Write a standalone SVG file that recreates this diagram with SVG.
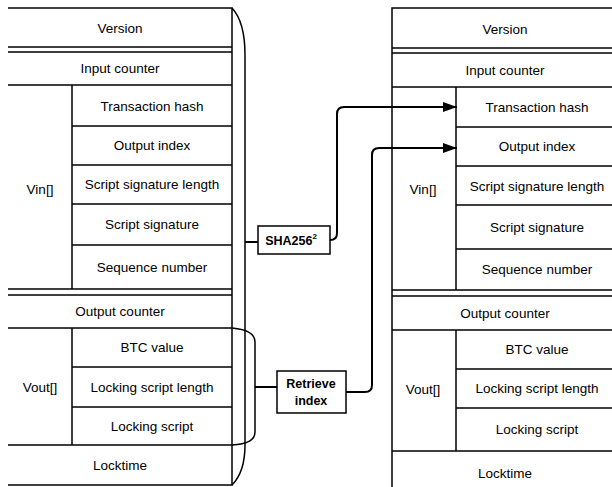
<svg xmlns="http://www.w3.org/2000/svg" width="612" height="487" viewBox="0 0 612 487">
<defs>
<style>
.ln{stroke:#000;stroke-width:1.5;fill:none}
.cn{stroke:#000;stroke-width:2;fill:none}
.t{font-family:"Liberation Sans",Arial,sans-serif;font-size:13.5px;fill:#000;text-anchor:middle}
.b{font-family:"Liberation Sans",Arial,sans-serif;font-size:12.5px;font-weight:bold;fill:#000;text-anchor:middle}
.box{fill:#fff;stroke:#000;stroke-width:1.5}
</style>
<marker id="ah" markerWidth="14" markerHeight="10" refX="14" refY="5" orient="auto" markerUnits="userSpaceOnUse">
<path d="M0,0 L14,5 L0,10 Z" fill="#000"/>
</marker>
</defs>
<rect width="612" height="487" fill="#fff"/>

<g id="left-tx">
<path class="ln" d="M8,8 H232 V485 H8"/>
<path class="ln" d="M8,47 H232 M8,52 H232 M8,85 H232 M72,85 V289 M72,126 H232 M72,165 H232 M72,204 H232 M72,245 H232 M8,289 H232 M8,295 H232 M8,328 H232 M72,328 V445 M72,367 H232 M72,407 H232 M8,445 H232"/>
<text class="t" x="120" y="33">Version</text>
<text class="t" x="120" y="73">Input counter</text>
<text class="t" x="152" y="111">Transaction hash</text>
<text class="t" x="152" y="150">Output index</text>
<text class="t" x="152" y="189">Script signature length</text>
<text class="t" x="152" y="229">Script signature</text>
<text class="t" x="152" y="272">Sequence number</text>
<text class="t" x="40" y="194">Vin[]</text>
<text class="t" x="120" y="316">Output counter</text>
<text class="t" x="152" y="352">BTC value</text>
<text class="t" x="152" y="392">Locking script length</text>
<text class="t" x="152" y="431">Locking script</text>
<text class="t" x="40" y="392">Vout[]</text>
<text class="t" x="120" y="470">Locktime</text>
</g>

<g id="right-tx">
<path class="ln" d="M392,487 V8 H612"/>
<path class="ln" d="M392,48 H612 M392,53 H612 M392,87 H612 M456,87 V290 M456,127 H612 M456,166 H612 M456,205 H612 M456,249 H612 M392,290 H612 M392,296 H612 M392,330 H612 M456,330 V451 M456,369 H612 M456,408 H612 M392,451 H612"/>
<text class="t" x="505" y="34">Version</text>
<text class="t" x="505" y="75">Input counter</text>
<text class="t" x="537" y="112">Transaction hash</text>
<text class="t" x="537" y="151">Output index</text>
<text class="t" x="537" y="191">Script signature length</text>
<text class="t" x="537" y="232">Script signature</text>
<text class="t" x="537" y="274">Sequence number</text>
<text class="t" x="423" y="194">Vin[]</text>
<text class="t" x="505" y="318">Output counter</text>
<text class="t" x="537" y="354">BTC value</text>
<text class="t" x="537" y="393">Locking script length</text>
<text class="t" x="537" y="434">Locking script</text>
<text class="t" x="423" y="394">Vout[]</text>
<text class="t" x="505" y="478">Locktime</text>
</g>

<g id="braces">
<path class="ln" d="M232,8 Q245,22 245,55 V445 Q245,472 232,485"/>
<path class="ln" d="M232,328 Q255,330 255,342 V432 Q255,444 232,445"/>
</g>

<g id="sha256">
<rect class="box" x="258" y="226" width="72" height="28"/>
<text class="b" x="291" y="245">SHA256<tspan font-size="8" dy="-6">2</tspan></text>
</g>

<g id="retrieve">
<rect class="box" x="277" y="371" width="69" height="42"/>
<text class="b" x="311" y="388">Retrieve</text>
<text class="b" x="311" y="405">index</text>
</g>

<g id="connectors">
<path class="cn" d="M245,242 H258"/>
<path class="cn" d="M255,387 H277"/>
<path class="cn" d="M330,240 Q337,240 337,233 V114 Q337,107 344,107 H457" marker-end="url(#ah)"/>
<path class="cn" d="M346,392 H365 Q372,392 372,385 V155 Q372,148 379,148 H457" marker-end="url(#ah)"/>
</g>
</svg>
